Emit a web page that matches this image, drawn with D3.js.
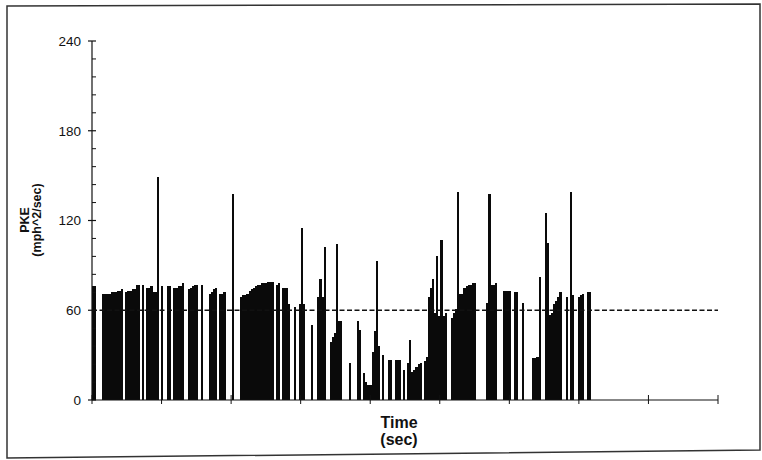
<!DOCTYPE html>
<html>
<head>
<meta charset="utf-8">
<script src="https://cdn.jsdelivr.net/npm/d3@7"></script>
<style>
  html, body { margin: 0; padding: 0; background: #fff; }
  svg { display: block; }
  text { font-family: "Liberation Sans", Arial, sans-serif; fill: #111; }
</style>
</head>
<body>
<svg id="chart" width="762" height="460"></svg>
<script>
// ---- data ----
// PKE sampled every 3 seconds, starting at t = 0 s
const sampleStep = 3;
const pke = [
  76, 76, 0, 0, 0, 71, 71, 71, 71, 72, 72, 72, 73, 73, 74, 0,
  72, 73, 73, 74, 74, 77, 77, 0, 77, 0, 75, 75, 76, 72, 72, 149,
  0, 76, 0, 0, 76, 76, 0, 75, 75, 76, 76, 78, 0, 0, 74, 75,
  76, 77, 77, 0, 77, 0, 0, 0, 71, 72, 74, 75, 0, 71, 71, 72,
  0, 0, 0, 138, 0, 0, 0, 69, 70, 70, 71, 73, 74, 75, 76, 77,
  77, 78, 78, 78, 79, 79, 79, 0, 77, 78, 0, 75, 75, 75, 64, 0,
  0, 62, 0, 64, 115, 64, 0, 0, 0, 50, 0, 0, 69, 81, 69, 102,
  0, 0, 39, 42, 45, 104, 53, 53, 0, 0, 0, 25, 0, 0, 0, 53,
  47, 0, 18, 12, 10, 10, 32, 46, 93, 36, 0, 30, 0, 0, 27, 27,
  0, 27, 27, 27, 0, 20, 0, 25, 40, 19, 20, 22, 24, 25, 0, 26,
  29, 69, 75, 81, 58, 96, 56, 107, 56, 58, 0, 0, 55, 58, 61, 139,
  71, 71, 75, 76, 77, 77, 78, 78, 0, 0, 0, 0, 0, 65, 138, 77,
  77, 78, 0, 0, 0, 73, 73, 73, 73, 0, 72, 72, 0, 0, 65, 0,
  0, 0, 0, 28, 28, 29, 82, 0, 0, 125, 105, 57, 58, 64, 66, 69,
  72, 0, 0, 69, 0, 139, 70, 0, 0, 69, 70, 71, 0, 72, 72
];
const threshold = 60;                       // dashed reference line
const yTicks = [0, 60, 120, 180, 240];
const yMinorStep = 12;
const xTicks = [0, 100, 200, 300, 400, 500, 600, 700, 800, 900];
const yTitle = ["PKE", "(mph^2/sec)"];
const xTitle = ["Time", "(sec)"];

// ---- layout ----
const svg = d3.select("#chart");
const mLeft = 92, mRight = 718, mTop = 41, mBottom = 400;

const x = d3.scaleLinear().domain([0, 900]).range([mLeft, mRight]);
const y = d3.scaleLinear().domain([0, 240]).range([mBottom, mTop]);

// outer frame (slightly skewed like the scan)
svg.append("path")
  .attr("d", "M7,6 L760,4 L760,450 L7,458 Z")
  .attr("fill", "none").attr("stroke", "#333").attr("stroke-width", 1.5);

// bars
const data = pke.map((v, i) => ({ t: i * sampleStep, v }));
svg.append("g").selectAll("rect")
  .data(data.filter(d => d.v > 0))
  .join("rect")
  .attr("x", d => Math.round(x(d.t)))
  .attr("width", d => Math.max(1, Math.round(x(d.t + sampleStep)) - Math.round(x(d.t))))
  .attr("y", d => y(d.v))
  .attr("height", d => y(0) - y(d.v))
  .attr("fill", "#0a0a0a")
  .attr("shape-rendering", "crispEdges");

// dashed threshold line
svg.append("line")
  .attr("x1", x(0)).attr("x2", x(900))
  .attr("y1", y(threshold)).attr("y2", y(threshold))
  .attr("stroke", "#111").attr("stroke-width", 1.4)
  .attr("stroke-dasharray", "5,2.5");

// y axis
const yAxis = svg.append("g");
yAxis.append("line")
  .attr("x1", mLeft).attr("x2", mLeft).attr("y1", y(0)).attr("y2", y(240))
  .attr("stroke", "#111").attr("stroke-width", 1.2);
const minor = d3.range(0, 241, yMinorStep).filter(v => v % 60 !== 0);
yAxis.selectAll("line.minor").data(minor).join("line")
  .attr("class", "minor")
  .attr("x1", mLeft).attr("x2", mLeft + 4)
  .attr("y1", d => y(d)).attr("y2", d => y(d))
  .attr("stroke", "#111").attr("stroke-width", 1);
yAxis.selectAll("line.major").data(yTicks).join("line")
  .attr("class", "major")
  .attr("x1", mLeft - 4).attr("x2", mLeft + 4)
  .attr("y1", d => y(d)).attr("y2", d => y(d))
  .attr("stroke", "#111").attr("stroke-width", 1.2);
yAxis.selectAll("text").data(yTicks).join("text")
  .attr("x", mLeft - 11).attr("y", d => y(d))
  .attr("dy", "0.36em")
  .attr("text-anchor", "end")
  .attr("font-size", 13.5)
  .text(d => d);

// x axis
const xAxis = svg.append("g");
xAxis.append("line")
  .attr("x1", mLeft).attr("x2", mRight).attr("y1", mBottom).attr("y2", mBottom)
  .attr("stroke", "#111").attr("stroke-width", 1.2);
xAxis.selectAll("line.tick").data(xTicks).join("line")
  .attr("class", "tick")
  .attr("x1", d => x(d)).attr("x2", d => x(d))
  .attr("y1", mBottom - 5).attr("y2", mBottom + 4)
  .attr("stroke", "#111").attr("stroke-width", 1);

// axis titles
const yt = svg.append("text")
  .attr("transform", "translate(30,220) rotate(-90)")
  .attr("text-anchor", "middle")
  .attr("font-weight", "bold")
  .attr("font-size", 12.5);
yt.selectAll("tspan").data(yTitle).join("tspan")
  .attr("x", 0).attr("dy", (d, i) => i === 0 ? "-0.1em" : "1.0em")
  .text(d => d);

const xt = svg.append("text")
  .attr("text-anchor", "middle")
  .attr("font-weight", "bold")
  .attr("font-size", 16);
xt.selectAll("tspan").data(xTitle).join("tspan")
  .attr("x", 399).attr("y", (d, i) => i === 0 ? 428 : 445)
  .text(d => d);
</script>
</body>
</html>
